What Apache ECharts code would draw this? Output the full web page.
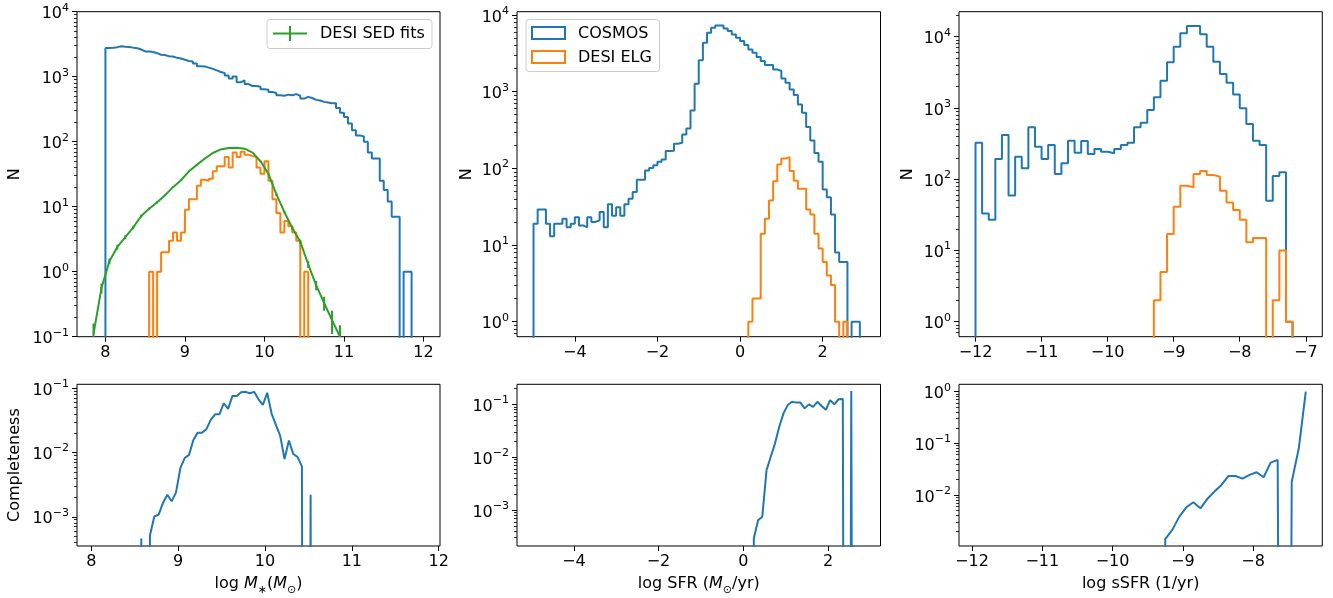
<!DOCTYPE html>
<html><head><meta charset="utf-8">
<script src="https://cdn.jsdelivr.net/npm/echarts@6/dist/echarts.min.js"></script>
<style>html,body{margin:0;padding:0;background:#fff}#c{width:1333px;height:598px}</style>
</head><body><div id="c"></div>
<script>
// ---------------- DATA ----------------
// Stellar mass histograms (bin edges start, width)
const massBinStart = 8.0, massBinWidth = 0.05;
const massCosmos = [2760, 2800, 2850, 2940, 2900, 2870, 2800, 2750, 2620, 2450,
  2440, 2400, 2300, 2180, 2150, 2060, 2040, 1950, 1900, 1820,
  1740, 1720, 1600, 1450, 1440, 1380, 1320, 1250, 1180, 1140,
  1040, 940, 1010, 820, 880, 770, 720, 720, 700, 640,
  630, 580, 560, 520, 510, 530, 520, 540, 510, 460,
  490, 470, 440, 430, 410, 400, 390, 390, 330, 280,
  240, 190, 150, 125, 120, 100, 68, 55, 55, 25,
  18, 12, 7, 7, 0, 1, 1];
const massElgStart = 8.55;
const massElg = [1, 0, 1, 2, 2, 3, 4, 3, 4, 9,
  13, 13, 21, 26, 25, 27, 35, 42, 42, 58,
  40, 68, 58, 70, 63, 60, 58, 40, 32, 50,
  25, 13, 8, 4, 6, 5, 4, 3, 0, 1];
// DESI SED fits (errorbar line)
const sedX = [7.85, 7.95, 8.05, 8.15, 8.25, 8.35, 8.45, 8.55, 8.65, 8.75, 8.85, 8.95, 9.05, 9.15, 9.25, 9.35,
  9.45, 9.55, 9.65, 9.75, 9.85, 9.95, 10.05, 10.15, 10.25, 10.35, 10.45, 10.55, 10.65, 10.75, 10.85, 10.95];
const sedY = [0.11, 0.56, 1.45, 2.4, 3.4, 4.8, 7.2, 9.3, 11.7, 15, 20, 25.5, 35, 44, 55, 67,
  76, 80, 81, 78, 68, 50, 32, 15.5, 8.3, 4.7, 2.9, 1.3, 0.62, 0.33, 0.18, 0.1];
const sedErr = [0.05, 0.1, 0.15, 0.2, 0.25, 0.3, 0.35, 0.4, 0.45, 0.5, 0.6, 0.7, 0.8, 0.9, 1.0, 1.1,
  1.2, 1.2, 1.2, 1.2, 1.1, 1.0, 0.8, 0.6, 0.4, 0.3, 0.2, 0.16, 0.1, 0.08, 0.07, 0.05];
// SFR histograms
const sfrBinStart = -5.0, sfrBinWidth = 0.1;
const sfrCosmos = [19, 29, 29, 19, 13, 19, 19, 22, 17, 19,
  23, 18, 17, 23, 20, 21, 27, 17, 34, 24,
  31, 24, 34, 40, 49, 71, 71, 94, 101, 110,
  122, 130, 168, 170, 209, 215, 276, 330, 569, 1270,
  2560, 4350, 5870, 6830, 7310, 7310, 6680, 6170, 5580, 5060,
  4580, 4060, 3550, 3220, 2830, 2510, 2220, 2220, 1950, 1860,
  1490, 1305, 1070, 903, 681, 530, 345, 230, 159, 122,
  53, 42, 25, 8, 6, 6, 0, 1, 1];
const sfrElgStart = 0.2;
const sfrElg = [1, 2, 2, 14, 22, 38, 68, 112, 134, 140, 92, 69, 54, 54, 29, 25, 14, 9, 6, 4, 3, 1, 0, 1];
// sSFR histograms
const ssfrBinStart = -12.0, ssfrBinWidth = 0.1;
const ssfrCosmos = [325, 33, 27, 192, 417, 59, 207, 142, 535, 286,
  192, 302, 118, 167, 347, 235, 343, 226, 265, 243,
  231, 265, 302, 325, 535, 621, 936, 1410, 2415, 4370,
  7240, 11170, 14130, 14130, 10790, 7240, 4460, 3000, 2260, 1550,
  990, 596, 347, 302, 50, 111, 125, 1];
const ssfrElgStart = -9.3;
const ssfrElg = [2, 5, 17, 41, 81, 77, 118, 130, 115, 108, 69, 47, 37, 27, 13, 15, 15, 0, 2, 10, 1];
// Completeness (bin centres, start + step)
const compMassStart = 8.525, compMassStep = 0.05;
const compMass = [0, 4.6e-4, 0, 5.1e-4, 1.01e-3, 1.08e-3, 1.64e-3, 2.2e-3, 1.74e-3, 2.4e-3,
  5.7e-3, 8.2e-3, 9.2e-3, 0.0157, 0.0204, 0.0204, 0.0231, 0.0322, 0.0394, 0.0394,
  0.0585, 0.0478, 0.076, 0.076, 0.0867, 0.088, 0.0836, 0.088, 0.0674, 0.055,
  0.085, 0.0408, 0.0269, 0.0182, 7.9e-3, 0.0154, 9.5e-3, 8.5e-3, 6.1e-3, 0, 2.2e-3, 0];
const compSfrStart = 0.15, compSfrStep = 0.1;
const compSfr = [0, 2.9e-4, 6.4e-4, 7.5e-4, 5.7e-3, 0.0102, 0.0183, 0.0378, 0.0675, 0.097,
  0.112, 0.108, 0.108, 0.084, 0.10, 0.09, 0.112, 0.093, 0.079, 0.12,
  0.10, 0.125, 0.127, 0, 0.18, 0];
const compSsfrStart = -9.35, compSsfrStep = 0.1;
const compSsfr = [0, 1.39e-3, 2.1e-3, 3.8e-3, 5.75e-3, 7.2e-3, 5.5e-3, 8.4e-3, 0.0116, 0.0156,
  0.0233, 0.0233, 0.0207, 0.0245, 0.0275, 0.022, 0.0422, 0.0476, 0, 0.018, 0.079, 1.0];
// Tick labels
const xTicksMass = [8, 9, 10, 11, 12];
const xTicksSfr = [-4, -2, 0, 2];
const xTicksSsfrTop = [-12, -11, -10, -9, -8, -7];
const xTicksSsfrBot = [-12, -11, -10, -9, -8];
const yTicksP1 = [0.1, 1, 10, 100, 1000, 10000];
const yTicksP23 = [1, 10, 100, 1000, 10000];
const yTicksCompA = [0.001, 0.01, 0.1];
const yTicksCompC = [0.01, 0.1, 1];
const legendLabels = ['DESI SED fits', 'COSMOS', 'DESI ELG'];

// ---------------- HELPERS ----------------
const FF = 'DejaVu Sans';
const C_BLUE = '#1f77b4', C_ORANGE = '#ff7f0e', C_GREEN = '#2ca02c';
const FLOOR = 1e-30;
function stepPoints(start, width, counts) {
  const pts = [[start, FLOOR]];
  counts.forEach((c, i) => {
    const y = c > 0 ? c : FLOOR;
    pts.push([start + i * width, y], [start + (i + 1) * width, y]);
  });
  pts.push([start + counts.length * width, FLOOR]);
  return pts;
}
function linePoints(start, step, vals) {
  return vals.map((v, i) => [start + i * step, v > 0 ? v : FLOOR]);
}
function minorTicks(lo, hi) {
  const out = [];
  for (let e = Math.floor(Math.log10(lo)); e <= Math.ceil(Math.log10(hi)); e++) {
    for (let m = 2; m <= 9; m++) { const v = m * Math.pow(10, e); if (v >= lo && v <= hi) out.push(v); }
  }
  return out;
}
function logLabel(v) {
  const n = Math.round(Math.log10(v));
  return '{b|10}{s|' + (n < 0 ? '\u2212' + (-n) : n) + '}';
}
function numLabel(v) { return String(v).replace('-', '\u2212'); }

const grids = [
  { left: 77, top: 11.7, width: 363, height: 325 },
  { left: 517, top: 11.7, width: 363.5, height: 325 },
  { left: 959, top: 11.7, width: 363.3, height: 325 },
  { left: 77, top: 384.3, width: 363, height: 161.7 },
  { left: 517, top: 384.3, width: 363.5, height: 161.7 },
  { left: 959, top: 384.3, width: 363.3, height: 161.7 }
].map(g => Object.assign({ show: true, borderColor: '#000', borderWidth: 1, backgroundColor: 'transparent', outerBoundsMode: 'none', containLabel: false }, g));

const nameRich = {
  n: { fontSize: 16, fontFamily: FF, color: '#000', verticalAlign: 'top', lineHeight: 18 },
  i: { fontSize: 16, fontFamily: FF, color: '#000', fontStyle: 'italic', verticalAlign: 'top', lineHeight: 18 },
  sub: { fontSize: 11, fontFamily: FF, color: '#000', verticalAlign: 'top', lineHeight: 11, padding: [9, 0, 0, 0] }
};
function xAxis(gi, min, max, ticks, name) {
  return {
    type: 'value', gridIndex: gi, min, max, position: 'bottom', splitLine: { show: false }, axisLine: { show: false, onZero: false },
    axisTick: { show: true, length: 5, lineStyle: { color: '#000', width: 1 }, customValues: ticks },
    axisLabel: { customValues: ticks, formatter: numLabel, fontSize: 16, color: '#000', margin: 8, fontFamily: FF },
    name: name || '', nameLocation: 'middle', nameGap: 30,
    nameTextStyle: { fontSize: 16, color: '#000', fontFamily: FF, rich: nameRich }
  };
}
function yAxis(gi, min, max, ticks, name, gap) {
  return {
    type: 'log', logBase: 10, gridIndex: gi, min, max, position: 'left', splitLine: { show: false }, axisLine: { show: false, onZero: false },
    axisTick: { show: true, length: 5, lineStyle: { color: '#000', width: 1 }, customValues: ticks },
    axisLabel: {
      customValues: ticks, formatter: logLabel, color: '#000', margin: 8, fontFamily: FF, padding: [0, 0, 3, 0],
      rich: {
        b: { fontSize: 16, fontFamily: FF, color: '#000', lineHeight: 16, verticalAlign: 'top', padding: [4, 0, 0, 0] },
        s: { fontSize: 11, fontFamily: FF, color: '#000', lineHeight: 11, verticalAlign: 'top' }
      }
    },
    name: name || '', nameLocation: 'middle', nameGap: gap || 50,
    nameTextStyle: { fontSize: 16, color: '#000', fontFamily: FF }
  };
}
function yMinor(gi, min, max) {
  return {
    type: 'log', logBase: 10, gridIndex: gi, min, max, position: 'left', offset: 0,
    splitLine: { show: false }, axisLine: { show: false, onZero: false }, axisLabel: { show: false },
    axisTick: { show: true, length: 3, lineStyle: { color: '#000', width: 0.8 }, customValues: minorTicks(min, max) }
  };
}
const yr = [
  [0.1, 10000], [Math.pow(10, -0.196), Math.pow(10, 4.043)], [Math.pow(10, -0.2105), Math.pow(10, 4.351)],
  [Math.pow(10, -3.455), Math.pow(10, -0.938)], [Math.pow(10, -3.68), Math.pow(10, -0.62)], [Math.pow(10, -2.99), Math.pow(10, 0.143)]
];
const xAxes = [
  xAxis(0, 7.6425, 12.2075, xTicksMass),
  xAxis(1, -5.4, 3.4, xTicksSfr),
  xAxis(2, -12.25, -6.75, xTicksSsfrTop),
  xAxis(3, 7.835, 12.015, xTicksMass, '{n|log }{i|M}{sub|\u2217}{n|(}{i|M}{sub|\u2299}{n|)}'),
  xAxis(4, -5.34, 3.24, xTicksSfr, '{n|log SFR (}{i|M}{sub|\u2299}{n|/yr)}'),
  xAxis(5, -12.185, -7.015, xTicksSsfrBot, '{n|log sSFR (1/yr)}')
];
const yAxes = [
  yAxis(0, yr[0][0], yr[0][1], yTicksP1, 'N', 54),
  yAxis(1, yr[1][0], yr[1][1], yTicksP23, 'N', 42),
  yAxis(2, yr[2][0], yr[2][1], yTicksP23, 'N', 43),
  yAxis(3, yr[3][0], yr[3][1], yTicksCompA, 'Completeness', 54),
  yAxis(4, yr[4][0], yr[4][1], yTicksCompA, '', 40),
  yAxis(5, yr[5][0], yr[5][1], yTicksCompC, '', 40)
];
for (let i = 0; i < 6; i++) yAxes.push(yMinor(i, yr[i][0], yr[i][1]));

function lineSeries(gi, data, color, z) {
  return { type: 'line', xAxisIndex: gi, yAxisIndex: gi, data, showSymbol: false, symbol: 'none', clip: true,
    lineStyle: { color, width: 2 }, itemStyle: { color }, z: z || 2, animation: false, silent: true };
}
const series = [
  lineSeries(0, stepPoints(massBinStart, massBinWidth, massCosmos), C_BLUE, 2),
  lineSeries(0, stepPoints(massElgStart, massBinWidth, massElg), C_ORANGE, 3),
  lineSeries(0, sedX.map((x, i) => [x, sedY[i]]), C_GREEN, 4),
  {
    type: 'custom', xAxisIndex: 0, yAxisIndex: 0, clip: true, z: 4, silent: true, animation: false,
    data: sedX.map((x, i) => [x, Math.max(sedY[i] - sedErr[i], FLOOR), sedY[i] + sedErr[i]]),
    encode: { x: 0, y: [1, 2] },
    renderItem: function (params, api) {
      const a = api.coord([api.value(0), api.value(1)]);
      const b = api.coord([api.value(0), api.value(2)]);
      return { type: 'line', shape: { x1: a[0], y1: a[1], x2: b[0], y2: b[1] }, style: { stroke: C_GREEN, lineWidth: 2 } };
    }
  },
  lineSeries(1, stepPoints(sfrBinStart, sfrBinWidth, sfrCosmos), C_BLUE, 2),
  lineSeries(1, stepPoints(sfrElgStart, sfrBinWidth, sfrElg), C_ORANGE, 3),
  lineSeries(2, stepPoints(ssfrBinStart, ssfrBinWidth, ssfrCosmos), C_BLUE, 2),
  lineSeries(2, stepPoints(ssfrElgStart, ssfrBinWidth, ssfrElg), C_ORANGE, 3),
  lineSeries(3, linePoints(compMassStart, compMassStep, compMass), C_BLUE, 2),
  lineSeries(4, linePoints(compSfrStart, compSfrStep, compSfr), C_BLUE, 2),
  lineSeries(5, linePoints(compSsfrStart, compSsfrStep, compSsfr), C_BLUE, 2)
];

const legendBox = { fill: 'rgba(255,255,255,0.8)', stroke: '#cccccc', lineWidth: 1 };
const txt = { fontSize: 16, fontFamily: FF, fill: '#000', verticalAlign: 'middle', align: 'left' };
const graphic = [
  { type: 'rect', z: 100, shape: { x: 267, y: 19.5, width: 165, height: 29, r: 3 }, style: legendBox },
  { type: 'line', z: 101, shape: { x1: 273, y1: 33.5, x2: 307, y2: 33.5 }, style: { stroke: C_GREEN, lineWidth: 2 } },
  { type: 'line', z: 101, shape: { x1: 290, y1: 26, x2: 290, y2: 41 }, style: { stroke: C_GREEN, lineWidth: 2 } },
  { type: 'text', z: 101, x: 320, y: 34, style: Object.assign({ text: legendLabels[0] }, txt) },
  { type: 'rect', z: 100, shape: { x: 526, y: 19.5, width: 133.5, height: 52, r: 3 }, style: legendBox },
  { type: 'rect', z: 101, shape: { x: 532, y: 27, width: 33, height: 12 }, style: { fill: 'none', stroke: C_BLUE, lineWidth: 2 } },
  { type: 'rect', z: 101, shape: { x: 532, y: 51, width: 33, height: 12 }, style: { fill: 'none', stroke: C_ORANGE, lineWidth: 2 } },
  { type: 'text', z: 101, x: 578, y: 33.5, style: Object.assign({ text: legendLabels[1] }, txt) },
  { type: 'text', z: 101, x: 578, y: 57.5, style: Object.assign({ text: legendLabels[2] }, txt) }
];

const chart = echarts.init(document.getElementById('c'), null, { renderer: 'canvas' });
chart.setOption({
  animation: false,
  backgroundColor: '#fff',
  textStyle: { fontFamily: FF },
  grid: grids,
  xAxis: xAxes,
  yAxis: yAxes,
  series,
  graphic
});
</script></body></html>
